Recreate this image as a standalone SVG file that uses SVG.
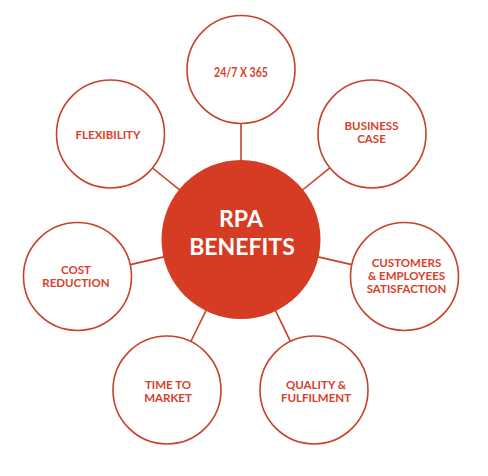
<svg xmlns="http://www.w3.org/2000/svg" width="488" height="476" viewBox="0 0 488 476">
<style>
.ring{fill:#ffffff;stroke:#c9402c;stroke-width:1.6}
.hub{fill:#d63b24}
.lbl{font-family:Lato,"Open Sans",sans-serif;font-weight:bold;font-size:11.5px;fill:#d8402a;text-anchor:middle}
.hubt{font-family:Lato,"Open Sans",sans-serif;font-weight:bold;font-size:23px;fill:#ffffff;text-anchor:middle}
.con{stroke:#c9402c;stroke-width:1.6;fill:none}
</style>
<rect width="488" height="476" fill="#ffffff"/>
<g id="connectors">
<line class="con" x1="241" y1="161" x2="241" y2="123.5"/>
<line class="con" x1="302.5" y1="190" x2="329.9" y2="167.9"/>
<line class="con" x1="318.1" y1="256.9" x2="351.8" y2="264.6"/>
<line class="con" x1="275.5" y1="310.6" x2="290.4" y2="341.4"/>
<line class="con" x1="206.1" y1="310.4" x2="190.8" y2="341.5"/>
<line class="con" x1="163.9" y1="256.9" x2="130.2" y2="264.6"/>
<line class="con" x1="179.6" y1="189.8" x2="152.5" y2="168"/>
</g>
<g id="hub">
<circle class="hub" cx="241" cy="239.5" r="79.5"/>
<text class="hubt" x="241" y="227">RPA</text>
<text class="hubt" x="242" y="255">BENEFITS</text>
</g>
<g id="n247">
<circle class="ring" cx="241" cy="69.5" r="54"/>
<text class="lbl" x="241" y="77" style="font-size:14px" textLength="54" lengthAdjust="spacingAndGlyphs">24/7 X 365</text>
</g>
<g id="business">
<circle class="ring" cx="372" cy="134" r="54"/>
<text class="lbl" x="371.5" y="130">BUSINESS</text>
<text class="lbl" x="371.5" y="143">CASE</text>
</g>
<g id="customers">
<circle class="ring" cx="404.5" cy="276.5" r="54"/>
<text class="lbl" x="406.5" y="267">CUSTOMERS</text>
<text class="lbl" x="406.5" y="280">&amp; EMPLOYEES</text>
<text class="lbl" x="406.5" y="293">SATISFACTION</text>
</g>
<g id="quality">
<circle class="ring" cx="314" cy="390" r="54"/>
<text class="lbl" x="316" y="389">QUALITY &amp;</text>
<text class="lbl" x="316" y="402">FULFILMENT</text>
</g>
<g id="time">
<circle class="ring" cx="167" cy="390" r="54"/>
<text class="lbl" x="168" y="389">TIME TO</text>
<text class="lbl" x="168" y="402">MARKET</text>
</g>
<g id="cost">
<circle class="ring" cx="77.5" cy="276.5" r="54"/>
<text class="lbl" x="76" y="274">COST</text>
<text class="lbl" x="76" y="287">REDUCTION</text>
</g>
<g id="flex">
<circle class="ring" cx="110.5" cy="134" r="54"/>
<text class="lbl" x="108" y="139">FLEXIBILITY</text>
</g>
</svg>
